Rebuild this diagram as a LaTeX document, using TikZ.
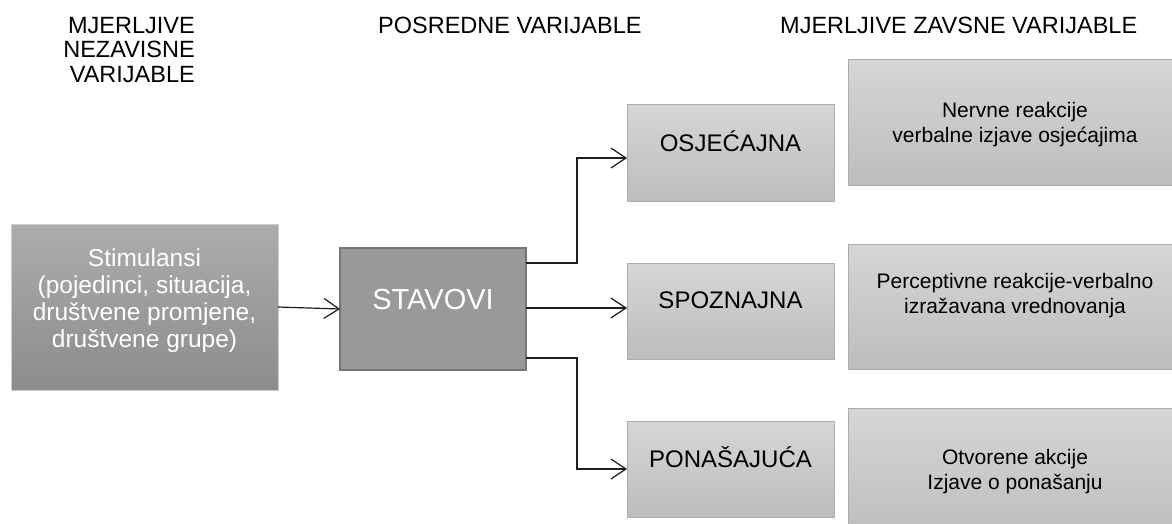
\documentclass[tikz,border=0pt]{standalone}
\usepackage{fontspec}
\setmainfont{Liberation Sans}
\usetikzlibrary{arrows.meta}
\definecolor{stimtop}{RGB}{172,172,172}
\definecolor{stimbot}{RGB}{140,140,140}
\definecolor{stimline}{RGB}{205,205,205}
\definecolor{stavfill}{RGB}{153,153,153}
\definecolor{stavline}{RGB}{118,118,118}
\definecolor{lighttop}{RGB}{214,214,214}
\definecolor{lightbot}{RGB}{189,189,189}
\definecolor{lightline}{RGB}{172,172,172}
\definecolor{conn}{RGB}{30,30,30}
\newcommand\myfs[2]{\fontsize{#1}{#2}\selectfont}
\begin{document}
\begin{tikzpicture}[x=1pt,y=-1pt,
  boxbase/.style={rectangle,inner sep=0pt,outer sep=0pt},
  stimbox/.style={boxbase,draw=stimline,line width=1pt,top color=stimtop,bottom color=stimbot,minimum width=267pt,minimum height=166pt},
  stavbox/.style={boxbase,draw=stavline,line width=2pt,fill=stavfill,minimum width=186pt,minimum height=122pt},
  midbox/.style={boxbase,draw=lightline,line width=1pt,top color=lighttop,bottom color=lightbot,minimum width=207pt,minimum height=96pt},
  bigbox/.style={boxbase,draw=lightline,line width=1pt,top color=lighttop,bottom color=lightbot,minimum width=334pt},
  hdr/.style={inner sep=0pt,font=\myfs{23.5}{24.5}},
  midtxt/.style={inner sep=0pt,anchor=base,font=\myfs{24}{28}},
  bigtxt/.style={inner sep=0pt,anchor=north,align=center,font=\myfs{21}{25}},
  arr/.style={draw=conn,line width=1.2pt,-{Straight Barb[length=15pt,width=20pt,line width=1.2pt]}}
]
\useasboundingbox (0,0) rectangle (1172,524);
\fill[white] (0,0) rectangle (1172,524);
\clip (0,0) rectangle (1172,524);

% headers
\node[hdr,anchor=north east,align=right] (h1) at (195,17) {MJERLJIVE\\NEZAVISNE\\VARIJABLE};
\node[hdr,anchor=north west] (h2) at (378,17) {POSREDNE VARIJABLE};
\node[hdr,anchor=north west] (h3) at (780,17) {MJERLJIVE ZAVSNE VARIJABLE};

% boxes
\node[stimbox] (stim) at (144.5,307) {};
\node[inner sep=0pt,align=center,text=white,font=\myfs{24.5}{27}] (stimT) at (144.5,301)
  {Stimulansi\\(pojedinci, situacija,\\društvene promjene,\\društvene grupe)};

\node[stavbox] (stav) at (433,309) {};
\node[inner sep=0pt,text=white,font=\myfs{29}{32}] (stavT) at (433,300) {STAVOVI};

\node[midbox] (osj) at (730.5,153) {};
\node[midtxt] (osjT) at (730.5,151) {OSJEĆAJNA};
\node[midbox] (spo) at (730.5,311) {};
\node[midtxt] (spoT) at (730.5,308) {SPOZNAJNA};
\node[midbox] (pon) at (730.5,469) {};
\node[midtxt] (ponT) at (730.5,467) {PONAŠAJUĆA};

\node[bigbox,minimum height=125pt] (nerv) at (1015,122.5) {};
\node[bigtxt] (nervT) at (1015,102) {Nervne reakcije\\verbalne izjave osjećajima};
\node[bigbox,minimum height=125pt] (perc) at (1015,306.5) {};
\node[bigtxt] (percT) at (1015,273) {Perceptivne reakcije-verbalno\\izražavana vrednovanja};
\node[bigbox,minimum height=132pt] (otv) at (1015,474) {};
\node[bigtxt] (otvT) at (1015,449) {Otvorene akcije\\Izjave o ponašanju};

% connectors
\draw[arr] (stim.east) -- (stav.west);
\coordinate (s1) at ([yshift=46pt]stav.east);
\coordinate (s3) at ([yshift=-49pt]stav.east);
\draw[arr] (s1) -- ++(51,0) |- ([yshift=-5pt]osj.west);
\draw[arr] ([yshift=1pt]stav.east) -- ([yshift=3pt]spo.west);
\draw[arr] (s3) -- ++(51,0) |- (pon.west);
\end{tikzpicture}
\end{document}
